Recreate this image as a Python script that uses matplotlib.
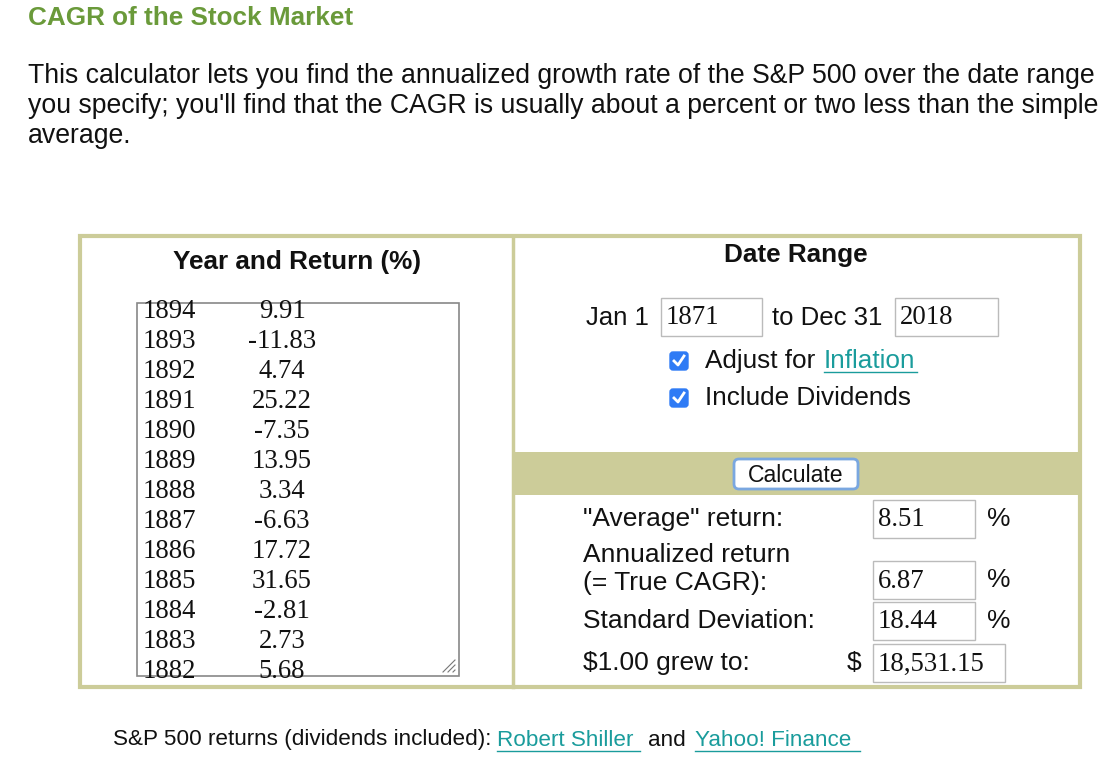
import matplotlib
matplotlib.use("Agg")
import matplotlib.pyplot as plt
from matplotlib.patches import Rectangle, FancyBboxPatch

years = [1894, 1893, 1892, 1891, 1890, 1889, 1888, 1887, 1886, 1885, 1884, 1883, 1882]
returns = [9.91, -11.83, 4.74, 25.22, -7.35, 13.95, 3.34, -6.63, 17.72, 31.65, -2.81, 2.73, 5.68]
start_year, end_year = "1871", "2018"
results = ["8.51", "6.87", "18.44", "18,531.15"]

SANS = "Liberation Sans"
SERIF = "Liberation Serif"
TAN = "#cccc99"
LINK = "#1a9c9c"
GREEN = "#6a9a3a"

fig = plt.figure(figsize=(11.18, 7.6), dpi=100)
ax = fig.add_axes([0, 0, 1, 1])
ax.set_xlim(0, 1118); ax.set_ylim(760, 0); ax.axis("off")

def T(x, y, s, size=19, **kw):
    kw.setdefault("family", SANS); kw.setdefault("va", "center"); kw.setdefault("color", "#111111")
    return ax.text(x, y, s, fontsize=size, **kw)

T(28, 18, "CAGR of the Stock Market", 18.8, weight="bold", color=GREEN)
para = ["This calculator lets you find the annualized growth rate of the S&P 500 over the date range",
        "you specify; you'll find that the CAGR is usually about a percent or two less than the simple",
        "average."]
for i, l in enumerate(para):
    T(28, 76 + 30 * i, l, 19.2)

ax.add_patch(Rectangle((80, 236), 1000, 451, fill=False, ec=TAN, lw=3))
ax.plot([513, 513], [236, 687], color=TAN, lw=2.5)
ax.add_patch(Rectangle((513, 452), 567, 43, fc=TAN, ec="none"))

T(297, 262, "Year and Return (%)", 18.8, weight="bold", ha="center")
T(796, 255, "Date Range", 18.8, weight="bold", ha="center")

ta = Rectangle((137, 303), 322, 373, fill=False, ec="#888888", lw=1.2)
ax.add_patch(ta)
clip = Rectangle((137, 303), 322, 373, transform=ax.transData)
for i, (y, r) in enumerate(zip(years, returns)):
    yy = 311 + 30 * i
    t1 = T(143, yy, str(y), 19.3, family=SERIF)
    t2 = T(282, yy, f"{r:.2f}", 19.3, family=SERIF, ha="center")
    t1.set_clip_path(clip); t2.set_clip_path(clip)
for d in range(3):
    ax.plot([443 + d * 5, 455], [672, 660 + d * 5], color="#777777", lw=0.8)

def box(x0, x1, y0, y1, s):
    ax.add_patch(Rectangle((x0, y0), x1 - x0, y1 - y0, fill=False, ec="#bbbbbb", lw=1))
    T(x0 + 5, (y0 + y1) / 2 + 1, s, 19.3, family=SERIF)

T(586, 318, "Jan 1", 18.5)
box(661, 762, 298, 336, start_year)
T(772, 318, "to Dec 31", 18.5)
box(895, 998, 298, 336, end_year)

for yc in (361, 398):
    ax.add_patch(FancyBboxPatch((670, yc - 9), 18, 18, boxstyle="round,pad=0,rounding_size=3",
                                fc="#2f7bf5", ec="#2f7bf5"))
    ax.plot([674, 678, 684], [yc, yc + 4, yc - 5], color="white", lw=2)
T(705, 361, "Adjust for", 18.8)
T(824, 361, "Inflation", 18.8, color=LINK)
ax.plot([824, 917], [372, 372], color=LINK, lw=1)
T(705, 398, "Include Dividends", 18.8)

ax.add_patch(FancyBboxPatch((734, 459), 124, 30, boxstyle="round,pad=0,rounding_size=5",
                            fc="white", ec="#7aa7e0", lw=2))
T(796, 475, "Calculate", 16.6, ha="center")

T(583, 519, '"Average" return:', 19)
box(873, 975, 500, 538, results[0]); T(987, 519, "%", 19)
T(583, 555, "Annualized return", 19)
T(583, 583, "(= True CAGR):", 19)
box(873, 975, 561, 599, results[1]); T(987, 580, "%", 19)
T(583, 621, "Standard Deviation:", 19)
box(873, 975, 602, 640, results[2]); T(987, 621, "%", 19)
T(583, 663, "$1.00 grew to:", 19)
T(847, 663, "$", 19)
box(873, 1005, 644, 682, results[3])

T(113, 740, "S&P 500 returns (dividends included):", 16.2)
T(497, 740, "Robert Shiller", 16.2, color=LINK)
ax.plot([497, 640], [751, 751], color=LINK, lw=1)
T(648, 740, "and", 16.2)
T(695, 740, "Yahoo! Finance", 16.2, color=LINK)
ax.plot([695, 860], [751, 751], color=LINK, lw=1)

fig.savefig("out.png", dpi=100)
